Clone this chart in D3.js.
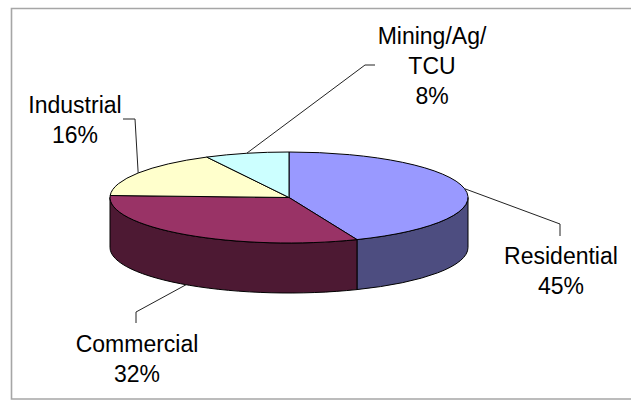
<!DOCTYPE html>
<html lang="en">
<head>
<meta charset="UTF-8">
<title>Pie</title>
<script src="https://d3js.org/d3.v7.min.js"></script>
<style>
    html, body { margin: 0; padding: 0; background: #fff; overflow: hidden; }
    svg { display: block; }
    text { font-family: "Liberation Sans", Arial, sans-serif; font-size: 23px; fill: #000; text-anchor: middle; }
</style>
</head>
<body>
<svg id="chart" width="631" height="400"></svg>
<script>
    // slice sizes, the printed percents are rounded
    const categories = ["Residential", "Commercial", "Industrial", "Mining/Ag/\nTCU"];
    const shares = [43.8, 31.9, 16.7, 7.6];
    const percentLabels = ["45%", "32%", "16%", "8%"];
    const topColors = ["#9999ff", "#993366", "#ffffcc", "#ccffff"];
    const sideColors = ["#4d4d80", "#4d1933", "#808066", "#668080"];

    const cx = 289, cy = 197.5, rx = 179, ry = 45.5, depth = 50;

    // text centre, first baseline and the leader's elbow points for each label
    const labelLayout = [
        { x: 561, y: 264, elbow: [[560, 224], [560, 236]], lower: false },
        { x: 137, y: 352, elbow: [[136, 312], [136, 323]], lower: true },
        { x: 75, y: 113, elbow: [[135, 119], [123, 119]], lower: false },
        { x: 432, y: 44, elbow: [[365, 65], [375, 65]], lower: false }
    ];
    const lineStep = 30;

    const svg = d3.select("#chart");

    // frame runs off the right of the picture
    svg.append("path")
        .attr("d", "M631,8.5H11.5V399H631")
        .attr("fill", "none")
        .attr("stroke", "#a6a6a6")
        .attr("stroke-width", 1.6);

    const arcs = d3.pie().sort(null).value(d => d)(shares);

    const px = a => cx + rx * Math.sin(a);
    const py = a => cy - ry * Math.cos(a);

    // only the front half of the rim shows
    function sidePath(d) {
        const a0 = Math.max(d.startAngle, Math.PI / 2);
        const a1 = Math.min(d.endAngle, Math.PI * 1.5);
        if (a1 <= a0) return null;
        return `M${px(a0)},${py(a0)}` +
            `A${rx},${ry} 0 0 1 ${px(a1)},${py(a1)}` +
            `V${py(a1) + depth}` +
            `A${rx},${ry} 0 0 0 ${px(a0)},${py(a0) + depth}Z`;
    }

    svg.append("g").selectAll("path")
        .data(arcs.filter(sidePath))
        .join("path")
        .attr("d", sidePath)
        .attr("fill", d => sideColors[d.index])
        .attr("stroke", "#000")
        .attr("stroke-width", 1);

    const arc = d3.arc().innerRadius(0).outerRadius(rx);

    svg.append("g")
        .attr("transform", `translate(${cx},${cy}) scale(1,${ry / rx})`)
        .selectAll("path")
        .data(arcs)
        .join("path")
        .attr("d", arc)
        .attr("fill", d => topColors[d.index])
        .attr("stroke", "#000")
        .attr("stroke-width", 1)
        .attr("vector-effect", "non-scaling-stroke");

    // leaders start on the rim at the middle of each slice
    const line = d3.line();
    svg.append("g").selectAll("path")
        .data(arcs)
        .join("path")
        .attr("d", d => {
            const mid = (d.startAngle + d.endAngle) / 2;
            const l = labelLayout[d.index];
            const start = [px(mid), py(mid) + (l.lower ? depth : 0)];
            return line([start, ...l.elbow]);
        })
        .attr("fill", "none")
        .attr("stroke", "#222")
        .attr("stroke-width", 1);

    const labels = svg.append("g").selectAll("text")
        .data(categories)
        .join("text")
        .attr("y", (d, i) => labelLayout[i].y);

    labels.selectAll("tspan")
        .data((d, i) => [...d.split("\n"), percentLabels[i]].map(t => ({ t, i })))
        .join("tspan")
        .attr("x", d => labelLayout[d.i].x)
        .attr("dy", (d, j) => j ? lineStep : 0)
        .text(d => d.t);
</script>
</body>
</html>
